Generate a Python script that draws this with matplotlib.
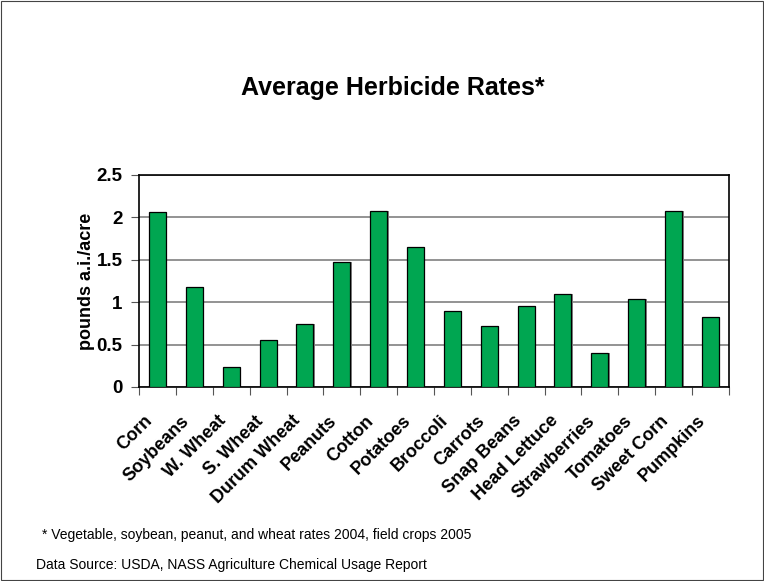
import numpy as np
import matplotlib.pyplot as plt
from matplotlib.patches import Rectangle

crops = ["Corn", "Soybeans", "W. Wheat", "S. Wheat", "Durum Wheat", "Peanuts",
         "Cotton", "Potatoes", "Broccoli", "Carrots", "Snap Beans", "Head Lettuce",
         "Strawberries", "Tomatoes", "Sweet Corn", "Pumpkins"]
rates = [2.06, 1.18, 0.24, 0.55, 0.74, 1.47, 2.07, 1.65,
         0.90, 0.72, 0.95, 1.10, 0.40, 1.04, 2.08, 0.82]
y_ticks = [0, 0.5, 1, 1.5, 2, 2.5]

plt.rcParams['font.family'] = ['Liberation Sans', 'DejaVu Sans']

fig = plt.figure(figsize=(7.64, 5.81), dpi=100)
fig.patches.append(Rectangle((0.001, 0.001), 0.998, 0.998, transform=fig.transFigure,
                             fill=False, edgecolor='#444444', linewidth=0.8))

ax = fig.add_axes([0.182, 0.334, 0.772, 0.365])
x = np.arange(len(crops))
# gray drop shadow behind each bar
ax.bar(x + 0.04, rates, width=0.46, color='#888888', zorder=2)
ax.bar(x, rates, width=0.46, color='#00a651', edgecolor='black', linewidth=0.9, zorder=3)

ax.set_xlim(-0.5, len(crops) - 0.5)
ax.set_ylim(0, 2.5)
ax.set_yticks(y_ticks)
ax.set_yticklabels([f"{v:g}" for v in y_ticks], fontsize=13.5, fontweight='bold')
ax.yaxis.grid(True, color='#808080', linewidth=1.2, zorder=1)
ax.set_axisbelow(True)

ax.set_xticks(np.arange(len(crops) + 1) - 0.5)
ax.set_xticklabels([])
ax.tick_params(axis='x', length=6, direction='out', color='#555555')
ax.tick_params(axis='y', length=6, direction='out', color='#555555', pad=6)
for i, name in enumerate(crops):
    ax.text(i - 0.36, -0.3, name, rotation=45, ha='right', va='top',
            rotation_mode='anchor', fontsize=13, fontweight='bold')

for side in ['top', 'right', 'bottom', 'left']:
    ax.spines[side].set_color('black')
    ax.spines[side].set_linewidth(1.2)

ax.set_ylabel('pounds a.i./acre', fontsize=13, fontweight='bold')
ax.yaxis.set_label_coords(-0.074, 0.5)

fig.text(0.514, 0.849, 'Average Herbicide Rates*', ha='center', va='center',
         fontsize=18, fontweight='bold')
fig.text(0.055, 0.079, '* Vegetable, soybean, peanut, and wheat rates 2004, field crops 2005',
         fontsize=10, va='center')
fig.text(0.047, 0.027, 'Data Source: USDA, NASS Agriculture Chemical Usage Report',
         fontsize=10, va='center')

fig.savefig('out.png', dpi=100)
